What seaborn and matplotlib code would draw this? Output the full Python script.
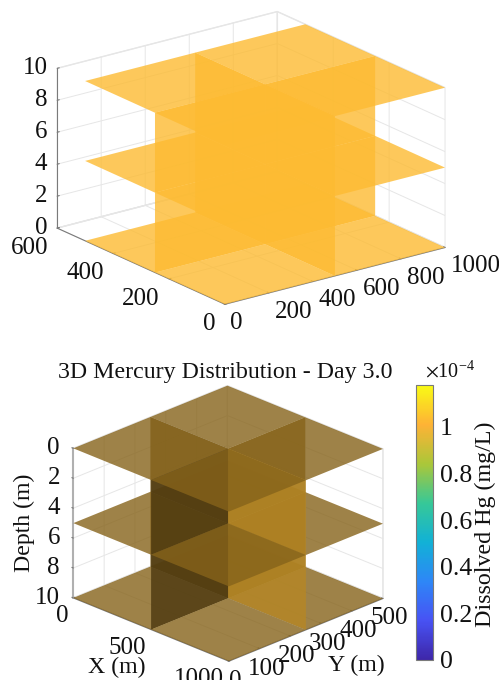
import numpy as np
import matplotlib
matplotlib.use("Agg")
import matplotlib.pyplot as plt
import seaborn as sns
from matplotlib.cm import ScalarMappable
from matplotlib.colors import Normalize
from mpl_toolkits.mplot3d.art3d import Poly3DCollection

# slice planes and domain
x_edges = [0, 500, 1000]
y_edges = [0, 250, 500]
z_edges = [0, 5, 10]
hg_value = 1.03e-4
hg_max = 1.18e-4

top_x_ticks = [0, 200, 400, 600, 800, 1000]
top_y_ticks = [0, 200, 400, 600]
top_z_ticks = [0, 2, 4, 6, 8, 10]
low_x_ticks = [0, 500, 1000]
low_y_ticks = [0, 100, 200, 300, 400, 500]
low_z_ticks = [0, 2, 4, 6, 8, 10]
cbar_ticks = [0, 0.2e-4, 0.4e-4, 0.6e-4, 0.8e-4, 1e-4]
cbar_labels = ["0", "0.2", "0.4", "0.6", "0.8", "1"]

parula = [(0.2422, 0.1504, 0.6603), (0.2810, 0.3228, 0.9579), (0.1786, 0.5289, 0.9682),
          (0.0689, 0.6948, 0.8394), (0.2161, 0.7843, 0.5923), (0.6720, 0.7793, 0.2227),
          (0.9950, 0.7000, 0.2100), (0.9769, 0.9839, 0.0805)]

sns.set_style("white", {"grid.color": "#e6e6e6", "text.color": "#111111"})
plt.rcParams["font.family"] = ["Liberation Serif", "DejaVu Serif"]
plt.rcParams["font.size"] = 14
plt.rcParams["grid.linewidth"] = 0.7
plt.rcParams["mathtext.fontset"] = "stix"

cmap = sns.blend_palette(parula, as_cmap=True)
norm = Normalize(0, hg_max)


def slice_quads(shade_z, shade_x_front, shade_x_back, shade_y_front, shade_y_back):
    # every plane is cut along the others so the depth sort works
    quads, colors = [], []
    base = np.array(cmap(norm(hg_value)))

    def add(pts, shade):
        quads.append(pts)
        c = base.copy()
        c[:3] *= shade
        colors.append(c)

    for z in z_edges:
        for i in range(2):
            for j in range(2):
                x0, x1 = x_edges[i], x_edges[i + 1]
                y0, y1 = y_edges[j], y_edges[j + 1]
                add([(x0, y0, z), (x1, y0, z), (x1, y1, z), (x0, y1, z)], shade_z)
    for k in range(2):
        z0, z1 = z_edges[k], z_edges[k + 1]
        for j in range(2):
            y0, y1 = y_edges[j], y_edges[j + 1]
            add([(x_edges[1], y0, z0), (x_edges[1], y1, z0), (x_edges[1], y1, z1), (x_edges[1], y0, z1)],
                shade_x_front if j == 0 else shade_x_back)
        for i in range(2):
            x0, x1 = x_edges[i], x_edges[i + 1]
            add([(x0, y_edges[1], z0), (x1, y_edges[1], z0), (x1, y_edges[1], z1), (x0, y_edges[1], z1)],
                shade_y_back if i == 0 else shade_y_front)
    return quads, colors


def style_axes(ax, xticks, yticks, zticks, xlim, ylim, zlim):
    ax.set_proj_type("ortho")
    ax.set_xlim(*xlim, view_margin=0)
    ax.set_ylim(*ylim, view_margin=0)
    ax.set_zlim(*zlim, view_margin=0)
    ax.set_xticks(xticks)
    ax.set_yticks(yticks)
    ax.set_zticks(zticks)
    for axis in (ax.xaxis, ax.yaxis, ax.zaxis):
        axis.set_pane_color((1, 1, 1, 1))
        axis.pane.set_edgecolor("#e6e6e6")
        axis.line.set_color("#7a7a7a")
        axis.line.set_linewidth(0.8)
        axis._axinfo["tick"]["inward_factor"] = 0.0
        axis._axinfo["tick"]["outward_factor"] = 0.12
        axis._axinfo["tick"]["color"] = "#7a7a7a"
    ax.tick_params(colors="#111111", labelsize=18, width=0.7, color="#7a7a7a")


def place_ticklabels(axis, pad, ha, va="center"):
    axis.set_tick_params(pad=pad)
    plt.setp(axis.get_majorticklabels(), ha=ha, va=va)


def add_slices(ax, quads, colors):
    poly = Poly3DCollection(quads, facecolors=colors, alpha=0.8, edgecolors="none", linewidths=0)
    ax.add_collection3d(poly)
    poly.set_clip_on(False)


fig = plt.figure(figsize=(4.99, 6.80), dpi=100)

# top panel
ax1 = fig.add_axes([-3 / 499, 0.5 + 7.5 / 680, 1.0, 0.5], projection="3d", facecolor="none")
ax1.view_init(elev=20, azim=-127)
ax1.set_box_aspect((274, 277, 169), zoom=1.22)
style_axes(ax1, top_x_ticks, top_y_ticks, top_z_ticks, (0, 1000), (0, 600), (0, 10))
place_ticklabels(ax1.xaxis, -3.8, "left", "top")
place_ticklabels(ax1.yaxis, -2.7, "right", "top")
place_ticklabels(ax1.zaxis, -4.8, "right")
q, c = slice_quads(1.0, 1.0, 1.0, 1.0, 1.0)
add_slices(ax1, q, c)

# bottom panel, depth runs downwards
ax2 = fig.add_axes([-1 / 499, -18 / 680, 0.9, 0.5], projection="3d", facecolor="none")
ax2.view_init(elev=24, azim=-45)
ax2.set_box_aspect((223, 221, 166), zoom=1.0)
style_axes(ax2, low_x_ticks, low_y_ticks, low_z_ticks, (0, 1000), (0, 500), (0, 10))
ax2.invert_zaxis()
# z axis belongs on the left corner here
ax2.zaxis._axinfo["juggled"] = (1, 2, 0)
ax2.zaxis.line.set_color("#b0b0b0")
ax2.zaxis.line.set_linewidth(1.5)
place_ticklabels(ax2.xaxis, -3.8, "right", "top")
place_ticklabels(ax2.yaxis, -2.6, "center", "top")
place_ticklabels(ax2.zaxis, -2.5, "right")
q, c = slice_quads(0.53, 0.3, 0.55, 0.72, 0.45)
add_slices(ax2, q, c)

fig.text(225 / 499, 1 - 372 / 680, "3D Mercury Distribution - Day 3.0", ha="center", va="center", fontsize=17.2)
fig.text(117 / 499, 1 - 667 / 680, "X (m)", ha="center", va="center", fontsize=17.2)
fig.text(356 / 499, 1 - 665 / 680, "Y (m)", ha="center", va="center", fontsize=17.2)
fig.text(24 / 499, 1 - 523 / 680, "Depth (m)", ha="center", va="center", rotation=90, fontsize=17.2)

# colorbar
cax = fig.add_axes([416 / 499, 1 - 660 / 680, 17 / 499, 275 / 680])
cb = fig.colorbar(ScalarMappable(norm=norm, cmap=cmap), cax=cax)
cb.set_ticks(cbar_ticks, labels=cbar_labels)
cb.ax.tick_params(labelsize=18.5, length=3, width=0.7, color="#555555", labelcolor="#111111", pad=5, direction="in")
cb.outline.set_edgecolor("#7a7a7a")
fig.text(485 / 499, 1 - 524 / 680, "Dissolved Hg (mg/L)", ha="center", va="center", rotation=90, fontsize=17.3)
fig.text(450 / 499, 1 - 372 / 680, r"$\times$10$^{\mathregular{-4}}$", ha="center", va="center", fontsize=14.5)

fig.savefig("out.png", dpi=100)
